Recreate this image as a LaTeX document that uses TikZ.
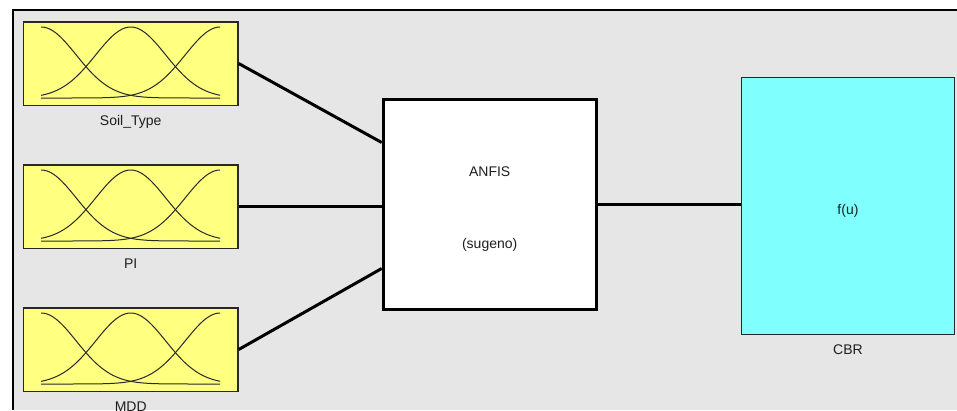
\documentclass[tikz,border=0pt]{standalone}
\usepackage{fontspec}
\setmainfont{Liberation Sans}
\usepackage{tikz}
\usetikzlibrary{positioning}
\definecolor{panelgray}{RGB}{230,230,230}
\definecolor{mfyellow}{RGB}{255,255,128}
\definecolor{outcyan}{RGB}{128,255,255}
\definecolor{edgegray}{RGB}{40,40,40}
\definecolor{textgray}{RGB}{30,30,30}
\tikzset{
  mfbox/.style={
    draw=edgegray, fill=mfyellow, line width=1.5pt,
    minimum width=214.5pt, minimum height=83.5pt,
    inner sep=0pt
  },
  fisbox/.style={
    draw=black, fill=white, line width=3pt,
    minimum width=213pt, minimum height=210pt
  },
  outbox/.style={
    draw=edgegray, fill=outcyan, line width=1.5pt,
    minimum width=213pt, minimum height=256.8pt
  },
  boxtext/.style={
    align=center, text=textgray,
    font=\fontsize{14}{16}\selectfont
  },
  varlabel/.style={
    font=\fontsize{14}{16}\selectfont, text=textgray
  },
  wire/.style={
    draw=black, line width=3pt
  },
  mfline/.style={
    draw=edgegray, line width=1pt
  },
}

\begin{document}
\begin{tikzpicture}[x=1pt, y=1pt]

  \useasboundingbox (0,0) rectangle (957,-410);

  %% Panel
  \fill[panelgray] (13,-10) rectangle (957,-410);
  \draw[line width=2.5pt] (13,-410) -- (13,-10) -- (957,-10);

  %% FIS block
  \node[fisbox] (anfis) at (489.7,-204.5) {};
  \node[boxtext, yshift=-5pt] (anfistxt) at (anfis.center)
    {ANFIS\\[56pt](sugeno)};

  %% Inputs
  \node[mfbox, left=143pt of anfis, yshift=-2pt] (pindex) {};
  \node[mfbox, above=58pt of pindex] (soil) {};
  \node[mfbox, below=58pt of pindex] (mdd) {};

  \foreach \v in {soil,pindex,mdd}
    \foreach \c in {-1,0,1}
      \draw[mfline, shift={(\v.center)}]
        plot[domain=-1:1, samples=61, smooth]
        ({89.5*\x}, {-34.5+71*exp(-((\x-\c)^2)/0.306)});

  \node[varlabel, below=6pt of soil] (soillbl) {Soil\_Type};
  \node[varlabel, below=6pt of pindex] (pilbl) {PI};
  \node[varlabel, below=6pt of mdd] (mddlbl) {MDD};

  %% Output
  \node[outbox, right=143pt of anfis, yshift=-1.5pt] (cbr) {};
  \node[boxtext, yshift=-4.5pt] (cbrtxt) at (cbr.center) {f(u)};
  \node[varlabel, below=6pt of cbr] (cbrlbl) {CBR};

  %% Wires
  \draw[wire] (soil.east) -- ([yshift=62pt]anfis.west);
  \draw[wire] (pindex.east) -- (pindex.east -| anfis.west);
  \draw[wire] (mdd.east) -- ([yshift=-64pt]anfis.west);
  \draw[wire] (anfis.east) -- (anfis.east -| cbr.west);

\end{tikzpicture}
\end{document}
